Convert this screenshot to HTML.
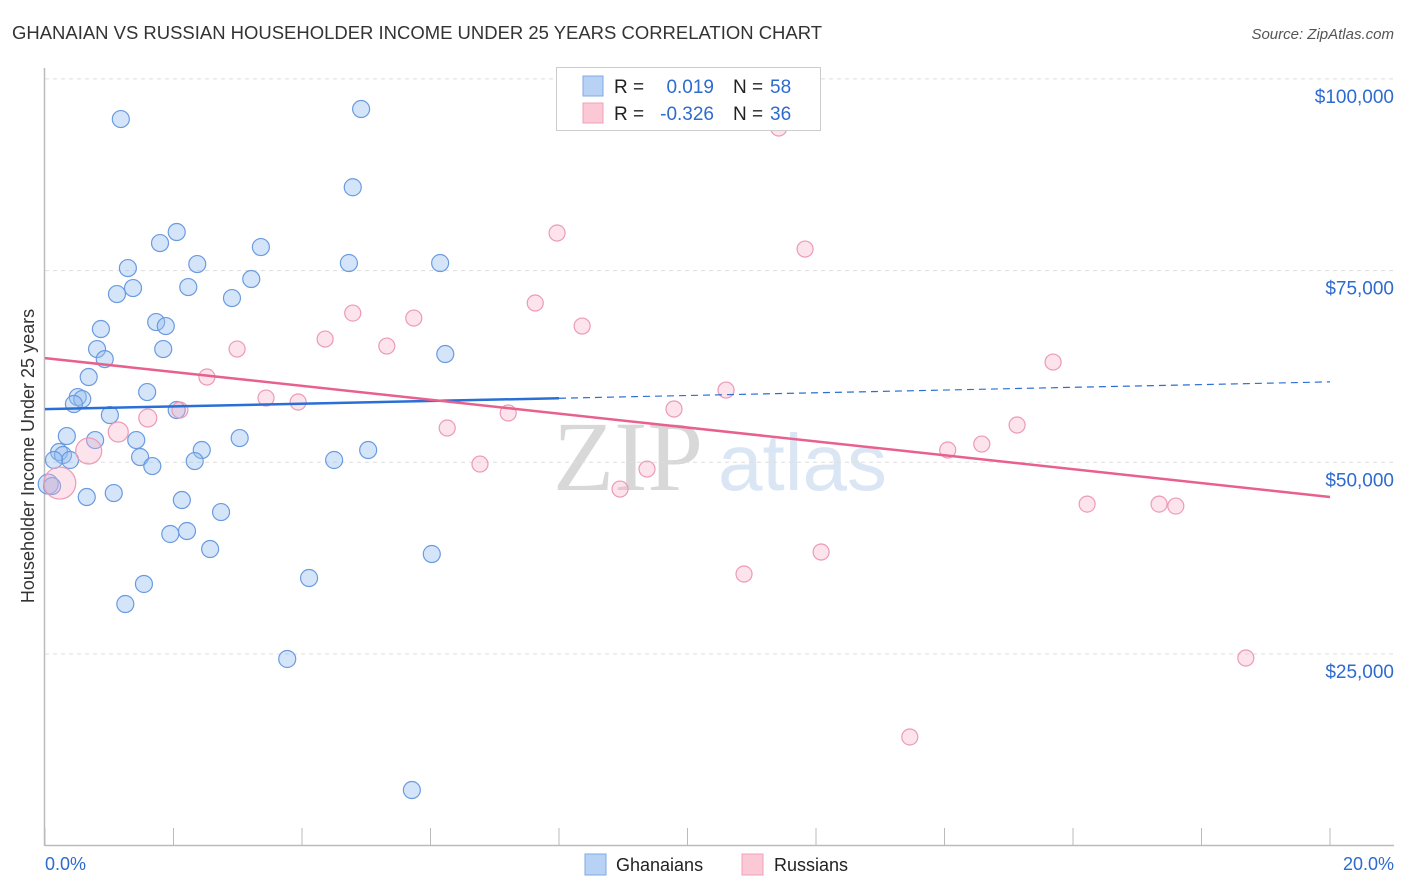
<!DOCTYPE html>
<html><head><meta charset="utf-8"><style>
body{margin:0;background:#fff;width:1406px;height:892px;overflow:hidden;font-family:"Liberation Sans",sans-serif}
svg{display:block}
</style></head><body>
<svg id="chart" width="1406" height="892">
<text x="12" y="39" font-size="18" fill="#333" textLength="810" lengthAdjust="spacingAndGlyphs">GHANAIAN VS RUSSIAN HOUSEHOLDER INCOME UNDER 25 YEARS CORRELATION CHART</text>
<text x="1394" y="39" font-size="15" fill="#555" font-style="italic" text-anchor="end">Source: ZipAtlas.com</text>
<text x="553" y="490" font-family="Liberation Serif,serif" font-size="100" fill="#d8d8d8">ZIP</text>
<text x="718" y="490" font-size="80" fill="#dbe6f5">atlas</text>
<text transform="translate(34,456) rotate(-90)" font-size="18" fill="#333" text-anchor="middle">Householder Income Under 25 years</text>
<g id="grid"></g><g id="marks"></g>
<g>
<rect x="556.5" y="67.5" width="264" height="63" fill="#fff" stroke="#ccc"/>
<rect x="583" y="76" width="20" height="20" fill="#b8d2f5" stroke="#7ea9e6"/>
<rect x="583" y="103" width="20" height="20" fill="#fbc8d6" stroke="#f0a0b8"/>
<text x="614" y="93" font-size="19" fill="#222">R = </text><text x="714" y="93" font-size="19" fill="#2d6bcf" text-anchor="end">0.019</text>
<text x="733" y="93" font-size="19" fill="#222">N = </text><text x="770" y="93" font-size="19" fill="#2d6bcf">58</text>
<text x="614" y="120" font-size="19" fill="#222">R = </text><text x="714" y="120" font-size="19" fill="#2d6bcf" text-anchor="end">-0.326</text>
<text x="733" y="120" font-size="19" fill="#222">N = </text><text x="770" y="120" font-size="19" fill="#2d6bcf">36</text>
</g>
<g>
<rect x="585" y="854" width="21" height="21" fill="#b8d2f5" stroke="#7ea9e6"/>
<text x="616" y="871" font-size="18" fill="#222">Ghanaians</text>
<rect x="742" y="854" width="21" height="21" fill="#fbc8d6" stroke="#f0a0b8"/>
<text x="774" y="871" font-size="18" fill="#222">Russians</text>
</g>
<text x="45" y="870" font-size="18" fill="#2d6bcf">0.0%</text>
<text x="1394" y="870" font-size="18" fill="#2d6bcf" text-anchor="end">20.0%</text>
</svg>
<script>
const yTicks=[25000,50000,75000,100000];
const yTickLabels=["$25,000","$50,000","$75,000","$100,000"];
const xTicks=[0,2,4,6,8,10,12,14,16,18,20];
const blueX=[1.18,4.92,4.79,2.05,1.79,3.36,1.29,2.37,4.73,6.15,3.21,2.23,1.37,1.12,2.91,1.73,1.88,0.87,0.81,1.84,0.93,6.23,0.68,1.59,0.51,0.58,0.45,2.05,1.01,0.34,0.78,1.42,3.03,0.22,0.28,5.03,2.44,1.48,0.39,0.14,1.67,4.50,2.33,0.05,0.11,0.65,1.07,2.13,2.74,2.21,1.95,2.57,6.02,1.54,4.11,1.25,3.77,5.71];
const blueY=[94760,96070,85870,80030,78590,78070,75330,75850,75990,75990,73900,72850,72720,71940,71420,68290,67770,67380,64770,64770,63460,64120,61120,59160,58510,58250,57600,56820,56160,53420,52900,52900,53160,51340,50950,51600,51600,50690,50300,50300,49510,50300,50160,47160,46900,45470,45990,45080,43510,41040,40650,38690,38040,34130,34910,31520,24350,7260];
const pinkX=[11.42,7.97,11.83,7.63,4.79,8.36,5.74,4.36,5.32,2.99,15.69,2.52,10.60,3.44,3.94,2.10,7.21,1.60,9.79,6.26,15.13,1.14,14.58,14.05,0.68,6.77,9.37,8.95,0.23,16.22,17.34,17.60,12.08,10.88,18.69,13.46];
const pinkY=[93590,79900,77810,70770,69460,67770,68810,66070,65160,64770,63070,61120,59420,58380,57860,56820,56430,55780,56950,54470,54860,53950,52380,51600,51470,49770,49120,46510,47290,44550,44550,44290,38300,35430,24480,14180];
const pinkR=[8,8,8,8,8,8,8,8,8,8,8,8,8,8,8,8,8,9,8,8,8,10,8,8,13,8,8,8,16,8,8,8,8,8,8,8];
const blueTrend=[56930,60490];
const pinkTrend=[63590,45480];
const X=v=>45+v/20*1285;
const Y=v=>845.7-v/25000*191.7;
const NS="http://www.w3.org/2000/svg";
function mk(parent,tag,attrs){const e=document.createElementNS(NS,tag);for(const k in attrs)e.setAttribute(k,attrs[k]);document.getElementById(parent).appendChild(e);return e;}
const ax=mk("grid","line",{x1:45,x2:1394,y1:845.5,y2:845.5,stroke:"#bbb","stroke-width":1.5});


const ay=mk("grid","line",{x1:44.5,x2:44.5,y1:68,y2:846,stroke:"#bbb","stroke-width":1.5});


xTicks.forEach(t=>{const l=mk("grid","line",{x1:X(t),x2:X(t),y1:828,y2:846,stroke:"#bbb"});

});
yTicks.forEach((t,i)=>{const g=mk("grid","line",{x1:45,x2:1394,y1:Y(t),y2:Y(t),stroke:"#ddd","stroke-dasharray":"4,4"});


const tx=mk("grid","text",{x:1394,y:Y(t)+24,"font-size":19,fill:"#2d6bcf","text-anchor":"end"});tx.textContent=yTickLabels[i];

});
blueX.forEach((x,i)=>{const c=mk("marks","circle",{cx:X(x),cy:Y(blueY[i]),r:(i==43?10:8.5),fill:"rgba(150,190,240,0.4)",stroke:"#6a9be0","stroke-width":1.2});

});
pinkX.forEach((x,i)=>{const c=mk("marks","circle",{cx:X(x),cy:Y(pinkY[i]),r:pinkR[i],fill:"rgba(248,175,200,0.35)",stroke:"#ec9ab5","stroke-width":1.2});

});
const bx=8;const byMid=blueTrend[0]+(blueTrend[1]-blueTrend[0])*bx/20;
const b1=mk("marks","line",{x1:X(0),y1:Y(blueTrend[0]),x2:X(bx),y2:Y(byMid),stroke:"#2a6fd6","stroke-width":2.5});


const b2=mk("marks","line",{x1:X(bx),y1:Y(byMid),x2:X(20),y2:Y(blueTrend[1]),stroke:"#2a6fd6","stroke-width":1.2,"stroke-dasharray":"7,5"});


const p1=mk("marks","line",{x1:X(0),y1:Y(pinkTrend[0]),x2:X(20),y2:Y(pinkTrend[1]),stroke:"#e8608c","stroke-width":2.5});


</script>
</body></html>
